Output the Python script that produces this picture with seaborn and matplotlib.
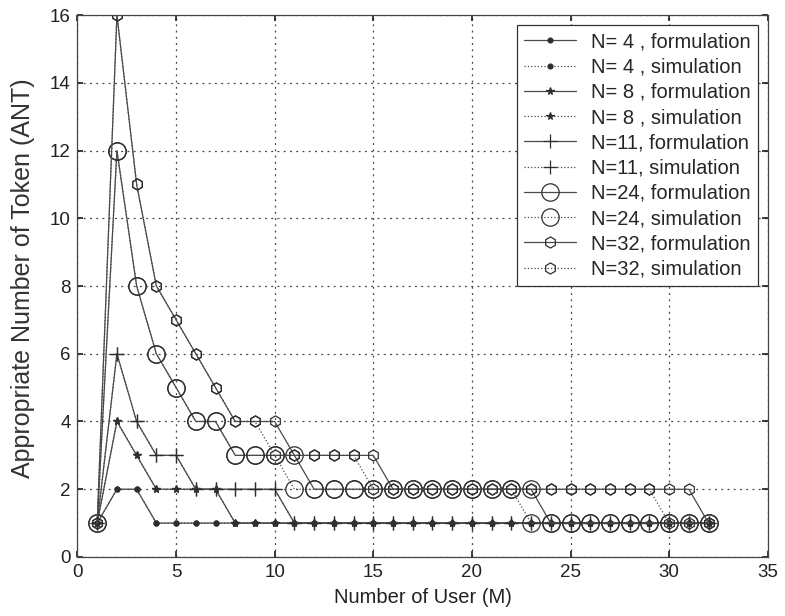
import matplotlib
matplotlib.use("Agg")
import matplotlib.pyplot as plt
import seaborn as sns

# Number of users M
users = [1, 2, 3, 4, 5, 6, 7, 8, 9, 10, 11, 12, 13, 14, 15, 16,
         17, 18, 19, 20, 21, 22, 23, 24, 25, 26, 27, 28, 29, 30, 31, 32]

# Appropriate number of token (ANT) per user count
n4_form = [1, 2, 2, 1, 1, 1, 1, 1, 1, 1, 1, 1, 1, 1, 1, 1,
           1, 1, 1, 1, 1, 1, 1, 1, 1, 1, 1, 1, 1, 1, 1, 1]
n4_sim = [1, 2, 2, 1, 1, 1, 1, 1, 1, 1, 1, 1, 1, 1, 1, 1,
          1, 1, 1, 1, 1, 1, 1, 1, 1, 1, 1, 1, 1, 1, 1, 1]
n8_form = [1, 4, 3, 2, 2, 2, 2, 1, 1, 1, 1, 1, 1, 1, 1, 1,
           1, 1, 1, 1, 1, 1, 1, 1, 1, 1, 1, 1, 1, 1, 1, 1]
n8_sim = [1, 4, 3, 2, 2, 2, 2, 1, 1, 1, 1, 1, 1, 1, 1, 1,
          1, 1, 1, 1, 1, 1, 1, 1, 1, 1, 1, 1, 1, 1, 1, 1]
n11_form = [1, 6, 4, 3, 3, 2, 2, 2, 2, 2, 1, 1, 1, 1, 1, 1,
            1, 1, 1, 1, 1, 1, 1, 1, 1, 1, 1, 1, 1, 1, 1, 1]
n11_sim = [1, 6, 4, 3, 3, 2, 2, 2, 2, 2, 1, 1, 1, 1, 1, 1,
           1, 1, 1, 1, 1, 1, 1, 1, 1, 1, 1, 1, 1, 1, 1, 1]
n24_form = [1, 12, 8, 6, 5, 4, 4, 3, 3, 3, 3, 2, 2, 2, 2, 2,
            2, 2, 2, 2, 2, 2, 2, 1, 1, 1, 1, 1, 1, 1, 1, 1]
n24_sim = [1, 12, 8, 6, 5, 4, 4, 3, 3, 3, 2, 2, 2, 2, 2, 2,
           2, 2, 2, 2, 2, 2, 1, 1, 1, 1, 1, 1, 1, 1, 1, 1]
n32_form = [1, 16, 11, 8, 7, 6, 5, 4, 4, 4, 3, 3, 3, 3, 3, 2,
            2, 2, 2, 2, 2, 2, 2, 2, 2, 2, 2, 2, 2, 2, 2, 1]
n32_sim = [1, 16, 11, 8, 7, 6, 5, 4, 4, 3, 3, 3, 3, 3, 2, 2,
           2, 2, 2, 2, 2, 2, 2, 2, 2, 2, 2, 2, 2, 1, 1, 1]

labels = ["N= 4 , formulation", "N= 4 , simulation",
          "N= 8 , formulation", "N= 8 , simulation",
          "N=11, formulation", "N=11, simulation",
          "N=24, formulation", "N=24, simulation",
          "N=32, formulation", "N=32, simulation"]

series = [n4_form, n4_sim, n8_form, n8_sim, n11_form, n11_sim,
          n24_form, n24_sim, n32_form, n32_sim]

sns.set_theme(style="ticks")
plt.rcParams["font.family"] = ["Liberation Sans", "DejaVu Sans"]

fig = plt.figure(figsize=(7.85, 6.16), dpi=100)
ax = fig.add_axes([0.0987, 0.0958, 0.8793, 0.8798])

# marker look for each N value: (marker, size, filled)
marker_spec = [(".", 7, True), (".", 7, True),
               ("*", 5.5, True), ("*", 5.5, True),
               ("+", 10, False), ("+", 10, False),
               ("o", 12.5, False), ("o", 12.5, False),
               ("h", 8, False), ("h", 8, False)]

line_col = "#4a4a4a"
mark_col = "#2e2e2e"
for i, (vals, lab) in enumerate(zip(series, labels)):
    mk, ms, filled = marker_spec[i]
    ls = "-" if i % 2 == 0 else ":"
    sns.lineplot(x=users, y=vals, ax=ax, label=lab, color=line_col,
                 linestyle=ls, linewidth=0.9, marker=mk, markersize=ms,
                 markerfacecolor=mark_col if filled else "none",
                 markeredgecolor=mark_col, markeredgewidth=0.9)

ax.set_xlim(0, 35)
ax.set_ylim(0, 16)
ax.set_xticks([0, 5, 10, 15, 20, 25, 30, 35])
ax.set_yticks([0, 2, 4, 6, 8, 10, 12, 14, 16])
ax.grid(True, color="#444444", linestyle=(0, (1.5, 3.5)), linewidth=0.9)
ax.tick_params(direction="in", length=4, labelsize=13.5, colors="#222222",
               top=True, right=True, pad=5)
for sp in ax.spines.values():
    sp.set_visible(True)
    sp.set_color("#444444")
    sp.set_linewidth(0.9)

ax.set_xlabel("Number of User (M)", fontsize=14.5, color="#222222", labelpad=5)
ax.set_ylabel("Appropriate Number of Token (ANT)", fontsize=18,
              color="#333333")
ax.yaxis.set_label_coords(-0.062, 0.515)

leg = ax.legend(loc="upper right", bbox_to_anchor=(0.986, 0.981),
                fontsize=14.5, frameon=True, fancybox=False, framealpha=1,
                edgecolor="#333333", borderpad=0.35, labelspacing=0.31,
                handlelength=2.6, handletextpad=0.75, borderaxespad=0,
                numpoints=1)
leg.get_frame().set_linewidth(0.9)

fig.savefig("out.png", dpi=100, facecolor="white")
